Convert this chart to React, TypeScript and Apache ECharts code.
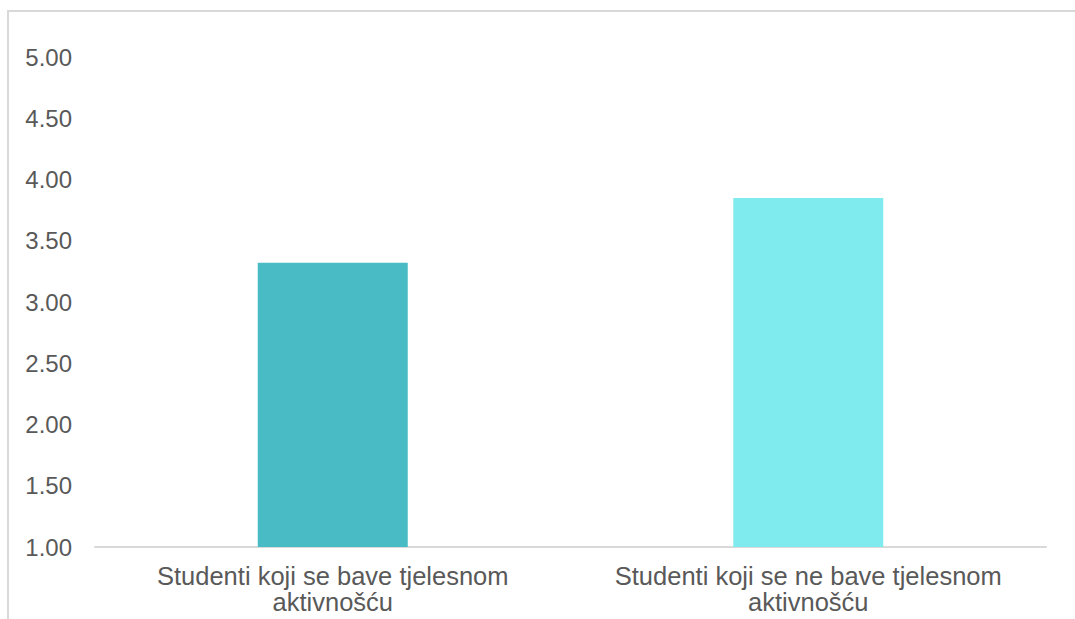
import React, { useEffect, useRef } from "react";
import * as echarts from "echarts";

const categories: string[] = [
  "Studenti koji se bave tjelesnom\naktivnošću",
  "Studenti koji se ne bave tjelesnom\naktivnošću",
];
const values: number[] = [3.32, 3.85];
const barColors: string[] = ["#48BBC5", "#80EBEE"];
const yMin = 1;
const yMax = 5;
const yInterval = 0.5;

export default function App() {
  const ref = useRef<HTMLDivElement>(null);
  useEffect(() => {
    if (!ref.current) return;
    const chart = echarts.init(ref.current, undefined, { renderer: "svg" });
    const font = "'Liberation Sans', Arial, sans-serif";
    chart.setOption({
      animation: false,
      backgroundColor: "#ffffff",
      graphic: [
        {
          type: "rect",
          shape: { x: 8, y: 11, width: 1200, height: 800 },
          style: { fill: "none", stroke: "#d9d9d9", lineWidth: 2 },
          z: 0,
        },
      ],
      grid: { left: 95, right: 29, top: 57, bottom: 72, containLabel: false },
      xAxis: {
        type: "category",
        data: categories,
        axisLine: { show: true, lineStyle: { color: "#d9d9d9", width: 2 } },
        axisTick: { show: false },
        axisLabel: {
          color: "#595959",
          fontSize: 25.5,
          fontFamily: font,
          lineHeight: 26,
          margin: 16,
          interval: 0,
        },
      },
      yAxis: {
        type: "value",
        min: yMin,
        max: yMax,
        interval: yInterval,
        axisLine: { show: false },
        axisTick: { show: false },
        splitLine: { show: false },
        axisLabel: {
          color: "#595959",
          fontSize: 24,
          fontFamily: font,
          margin: 23,
          formatter: (v: number) => v.toFixed(2),
        },
      },
      series: [
        {
          type: "bar",
          barWidth: 150,
          data: values.map((v, i) => ({ value: v, itemStyle: { color: barColors[i] } })),
        },
      ],
    });
    return () => chart.dispose();
  }, []);
  return (
    <div
      ref={ref}
      style={{ position: "absolute", left: 0, top: 0, width: 1075, height: 619 }}
    />
  );
}
